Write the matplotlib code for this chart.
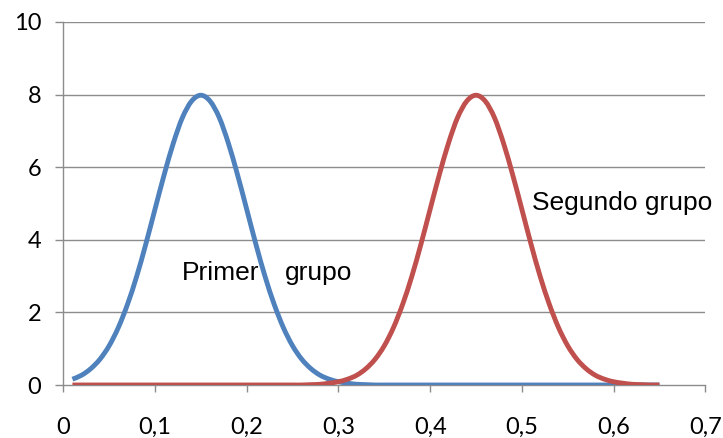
import matplotlib
matplotlib.use("Agg")
import matplotlib.pyplot as plt
from matplotlib.path import Path
from matplotlib.patches import PathPatch

x_vals = [round(0.01 * i, 2) for i in range(1, 66)]
primer = [0.16, 0.27, 0.45, 0.71, 1.08, 1.58, 2.22, 2.99, 3.88, 4.84,
          5.79, 6.66, 7.37, 7.82, 7.98, 7.82, 7.37, 6.66, 5.79, 4.84,
          3.88, 2.99, 2.22, 1.58, 1.08, 0.71, 0.45, 0.27, 0.16, 0.09,
          0.05, 0.02, 0.01] + [0.0] * 32
segundo = [0.0] * 26 + [0.01, 0.02, 0.05, 0.09, 0.16, 0.27, 0.45, 0.71, 1.08,
                        1.58, 2.22, 2.99, 3.88, 4.84, 5.79, 6.66, 7.37, 7.82,
                        7.98, 7.82, 7.37, 6.66, 5.79, 4.84, 3.88, 2.99, 2.22,
                        1.58, 1.08, 0.71, 0.45, 0.27, 0.16, 0.09, 0.05, 0.02,
                        0.01, 0.0, 0.0]
x_ticks = [0, 0.1, 0.2, 0.3, 0.4, 0.5, 0.6, 0.7]
x_labels = ["0", "0,1", "0,2", "0,3", "0,4", "0,5", "0,6", "0,7"]
y_ticks = [0, 2, 4, 6, 8, 10]
y_labels = ["0", "2", "4", "6", "8", "10"]


def smooth_path(xs, ys):
    """Smoothed line through the data points (Catmull-Rom as cubic Bezier)."""
    n = len(xs)
    verts = [(xs[0], ys[0])]
    codes = [Path.MOVETO]
    for i in range(n - 1):
        a = i - 1 if i > 0 else i
        d = i + 2 if i + 2 < n else i + 1
        c1 = (xs[i] + (xs[i + 1] - xs[a]) / 6.0, ys[i] + (ys[i + 1] - ys[a]) / 6.0)
        c2 = (xs[i + 1] - (xs[d] - xs[i]) / 6.0, ys[i + 1] - (ys[d] - ys[i]) / 6.0)
        verts += [c1, c2, (xs[i + 1], ys[i + 1])]
        codes += [Path.CURVE4] * 3
    return Path(verts, codes)


fig = plt.figure(figsize=(7.23, 4.38), dpi=100)
ax = fig.add_axes([0.0875, 0.121, 0.888, 0.829])

grid_c = "#8c8c8c"
for yv in y_ticks[1:]:
    ax.axhline(yv, color=grid_c, lw=1.0, zorder=1)

ax.add_patch(PathPatch(smooth_path(x_vals, primer), fill=False, ec="#4F81BD",
                       lw=3.5, capstyle="butt", zorder=3))
ax.add_patch(PathPatch(smooth_path(x_vals, segundo), fill=False, ec="#C0504D",
                       lw=3.5, capstyle="butt", zorder=4))

ax.set_xlim(0, 0.7)
ax.set_ylim(0, 10)
ax.set_xticks(x_ticks)
ax.set_xticklabels(x_labels)
ax.set_yticks(y_ticks)
ax.set_yticklabels(y_labels)

for s in ["top", "right"]:
    ax.spines[s].set_visible(False)
for s in ["left", "bottom"]:
    ax.spines[s].set_color(grid_c)
    ax.spines[s].set_linewidth(1.0)
ax.spines["bottom"].set_zorder(2)

ax.tick_params(axis="x", direction="out", length=5, width=1.0, color=grid_c,
               labelsize=17, pad=18)
ax.tick_params(axis="y", direction="out", length=6, width=1.0, color=grid_c,
               labelsize=17, pad=10)
for lab in ax.get_xticklabels() + ax.get_yticklabels():
    lab.set_family(["Lato", "DejaVu Sans"])
    lab.set_color("#000000")

lab_font = ["Liberation Sans", "DejaVu Sans"]
ax.text(0.1295, 2.89, "Primer", fontsize=19, family=lab_font,
        va="baseline", ha="left", zorder=5)
ax.text(0.242, 2.89, "grupo", fontsize=19, family=lab_font,
        va="baseline", ha="left", zorder=5)
ax.text(0.5114, 4.82, "Segundo grupo", fontsize=19, family=lab_font,
        va="baseline", ha="left", zorder=5)

fig.savefig("out.png", dpi=100)
